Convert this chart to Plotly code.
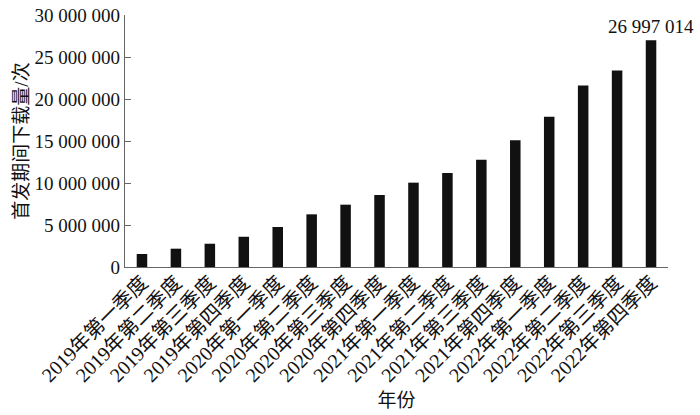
import plotly.graph_objects as go

categories = ["2019年第一季度", "2019年第二季度", "2019年第三季度", "2019年第四季度",
              "2020年第一季度", "2020年第二季度", "2020年第三季度", "2020年第四季度",
              "2021年第一季度", "2021年第二季度", "2021年第三季度", "2021年第四季度",
              "2022年第一季度", "2022年第二季度", "2022年第三季度", "2022年第四季度"]
downloads = [1550000, 2180000, 2770000, 3600000, 4760000, 6270000, 7420000, 8570000,
             10040000, 11200000, 12770000, 15100000, 17900000, 21600000, 23400000, 26997014]
labelled = [False] * 15 + [True]

bar_text = [f"{v:,}".replace(",", " ") if show else "" for v, show in zip(downloads, labelled)]

FONT = "Liberation Serif, Times New Roman, Noto Sans CJK SC, serif"

fig = go.Figure(go.Bar(
    x=categories, y=downloads, text=bar_text, textposition="outside",
    constraintext="none",
    textfont=dict(family=FONT, size=19, color="#111"),
    marker=dict(color="#111111", line=dict(width=0)),
    width=0.31, cliponaxis=False,
))

fig.update_layout(
    width=700, height=415,
    margin=dict(l=125, r=32, t=15, b=148),
    paper_bgcolor="white", plot_bgcolor="white",
    separators=". ",
    font=dict(family=FONT, size=19, color="#111"),
    showlegend=False,
    xaxis=dict(
        title=dict(text="年份", font=dict(size=19), standoff=8),
        tickangle=-45, tickfont=dict(size=20), ticklabelstandoff=-5,
        showline=True, linecolor="#666", linewidth=1.2,
        ticks="", showgrid=False, automargin=False,
    ),
    yaxis=dict(
        title=dict(text="首发期间下载量/次", font=dict(size=19), standoff=0),
        range=[0, 30000000], dtick=5000000, tickformat=",d",
        tickfont=dict(size=19), ticklabeloverflow="allow",
        showline=True, linecolor="#666", linewidth=1.2,
        ticks="inside", ticklen=6, tickcolor="#666",
        showgrid=False, zeroline=False, automargin=False,
    ),
)

fig.write_html("out.html", config={"displayModeBar": False},
               post_script="document.body.style.margin='0';document.body.style.overflow='hidden';")
